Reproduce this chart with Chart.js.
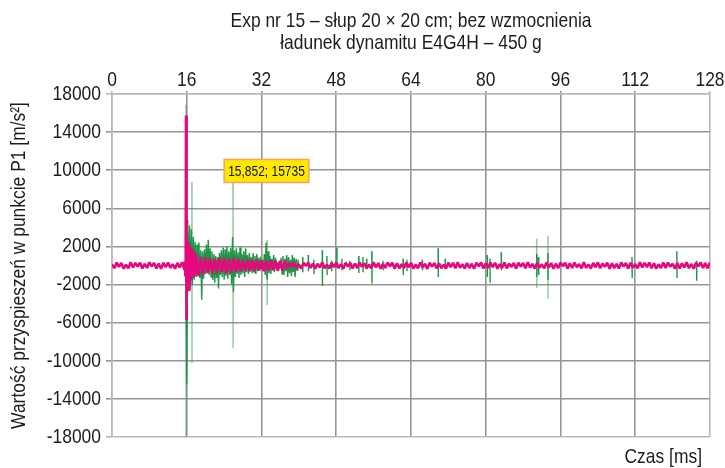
<!DOCTYPE html>
<html>
<head>
<meta charset="utf-8">
<script src="https://cdn.jsdelivr.net/npm/chart.js@4.4.1/dist/chart.umd.min.js"></script>
<style>
  html, body { margin: 0; padding: 0; background: #ffffff; }
  canvas { display: block; }
</style>
</head>
<body>
<canvas id="chart" width="725" height="468"></canvas>
<script>
// ---- texts ----
const titleLines = ['Exp nr 15 – słup 20 × 20 cm; bez wzmocnienia', 'ładunek dynamitu E4G4H – 450 g'];
const xTitle = 'Czas [ms]';
const yTitle = 'Wartość przyspieszeń w punkcie P1 [m/s²]';

// ---- axis ticks ----
const timeTicks = [0, 16, 32, 48, 64, 80, 96, 112, 128];
const accelTicks = [18000, 14000, 10000, 6000, 2000, -2000, -6000, -10000, -14000, -18000];

// ---- peak of the P1 trace ----
const PEAK_TIME = 15.852;
const PEAK_VALUE = 15735;

// ---- P1 trace (magenta), sampled every 0.5 ms outside the impact ----
const SAMPLE_MS = 0.5;
// 0.0 … 15.5 ms
const p1Before = [120, -280, 310, -150, 260, -330, 90, -300,
                  340, -210, 280, -120, 300, -320, 180, -260,
                  330, -90, 250, -310, 200, -340, 290, -180,
                  320, -250, 140, -330, 270, -200, 350, -420];
// impact, 15.6 … 17.9 ms
const p1ImpactTime = [15.6, 15.7, 15.78, PEAK_TIME, 15.92, 16.0, 16.1, 16.2, 16.3, 16.4, 16.5, 16.6,
                      16.7, 16.8, 16.9, 17.0, 17.1, 17.2, 17.3, 17.4, 17.5, 17.6, 17.7, 17.8, 17.9];
const p1ImpactValue = [450, -1100, 1900, PEAK_VALUE, -5700, 2600, -2300, 2400, -1800, 2500, -2600, 2100,
                       -1500, 1900, -1400, 1800, -1200, 1600, -1300, 1300, -1000, 1400, -1100, 1200, -900];
// 18.0 … 128.0 ms
const P1_AFTER_START = 18;
const p1After = [1000, -1100, 900, -950, 850,
  -800, 750, -820, 700, -780, 820, -700, 760, -850, 700, -760, 800, -680, 720,
  -640, 600, -560, 620, -600, 540, -580, 620, -520, 560, -600, 500, -540, 580, -500, 520, -560, 480, -520, 500,
  -300, 260, -150, 330, -280, 120, -340, 290, -60, 310, -250, 200, -330, 180,
  -220, 340, -290, 90, -310, 270, -180, 320, -260, 150, -340, 300, -100, 280,
  -320, 210, -270, 330, -140, 250, -310, 100, -290, 340, -200, 260, -330, 170,
  -250, 310, -80, 290, -340, 230, -300, 150, -270, 320, -190, 280, -320, 110,
  -290, 330, -210, 180, -350, 300, -120, 270, -310, 240, -280, 90, -330, 310,
  -160, 280, -300, 340, -230, 130, -320, 260, -270, 190, -340, 300, -90, 320,
  -310, 220, -250, 310, -180, 290, -340, 140, -260, 330, -300, 200, -150, 270,
  -330, 300, -110, 260, -290, 340, -220, 170, -320, 280, -240, 120, -310, 330,
  -200, 250, -340, 190, -280, 310, -70, 290, -330, 230, -260, 320, -180, 150,
  -300, 340, -250, 110, -320, 270, -190, 330, -290, 200, -140, 300, -340, 240,
  -270, 180, -310, 320, -100, 260, -330, 290, -230, 150, -300, 340, -210, 280,
  -160, 310, -290, 240, -340, 130, -270, 320, -250, 300, -120, 190, -330, 270,
  -310, 220, -200, 330, -280, 160, -340, 290, -90, 310, -260, 250, -300, 320];

// ---- second trace (green): dense part 15.8 … 40.0 ms every 0.2 ms ----
const G_DENSE_START = 15.8;
const G_DENSE_STEP = 0.2;
const g1Dense = [0, -12500, 4800, -2500, 4200, -2200, 3800, -2000, 3000, -1500,
  2500, -1200, 2200, -1000, 2400, -1300, 1600, -3600, 1500, -1400,
  1700, -900, 2200, -800, 2700, -1000, 1800, -1200, 1500, -1500,
  1200, -1800, 1000, -1300, 900, -2400, 1300, -1000, 1600, -1200,
  1900, -1500, 1700, -1100, 2000, -1400, 1500, -1000, 1800, -2000,
  3000, -2800, 1600, -1200, 1800, -900, 1400, -1300, 1900, -1000,
  1200, -800, 1500, -1200, 1800, -700, 1100, -900, 1300, -600,
  900, -800, 1300, -700, 1000, -900, 1200, -600, 800, -500,
  900, -400, 600, -500, 1200, -1000, 2400, -1500, 1500, -800,
  1000, -900, 700, -500, 1100, -700, 800, -400, 300, -300,
  500, -300, 800, -900, 1000, -1000, 700, -600, 1100, -1200,
  900, -800, 600, -1100, 1100, -700, 800, -1200, 700, -500, 600, 0];

// isolated bursts later in the record
const g1BurstTime = [40.8, 42.0, 43.2, 45.0, 46.0, 47.0, 48.1, 49.2, 50.9, 52.8,
                     53.7, 54.5, 55.6, 58.0, 62.3, 63.1, 66.4, 69.8, 71.3, 80.3,
                     80.9, 83.3, 90.9, 91.3, 93.3, 111.3, 120.9, 125.1];
const g1BurstHigh = [900, 1100, 600, 1600, 1000, 500, 1900, 700, 500, 1000,
                     900, 700, 1500, 500, 700, 600, 600, 1800, 700, 1100,
                     700, 1400, 1200, 900, 1300, 900, 1500, 500];
const g1BurstLow = [-700, -600, -900, -2150, -1000, -600, -300, -500, -500, -800,
                    -700, -400, -1900, -500, -1000, -600, -500, -1200, -400, -1200,
                    -1800, -500, -1200, -1000, -1500, -1300, -1300, -1600];

// single-sample spikes (thin, faint)
const g1SpikeTime = [15.85, 17.1, 25.9, 33.2, 90.9, 93.3];
const g1SpikeHigh = [16850, 8760, 8660, 2700, 2800, 3100];
const g1SpikeLow = [-18000, -10230, -8660, -4150, -2400, -3500];

// ---- build point lists ----
const p1Points = [];
p1Before.forEach((v, i) => p1Points.push({ x: i * SAMPLE_MS, y: v }));
p1ImpactTime.forEach((t, i) => p1Points.push({ x: t, y: p1ImpactValue[i] }));
p1After.forEach((v, i) => p1Points.push({ x: P1_AFTER_START + i * SAMPLE_MS, y: v }));

const greenPoints = [];
g1Dense.forEach((v, i) => greenPoints.push({ x: +(G_DENSE_START + i * G_DENSE_STEP).toFixed(2), y: v }));
greenPoints.push({ x: 40.05, y: null });
g1BurstTime.forEach((t, i) => {
  greenPoints.push({ x: t, y: g1BurstHigh[i] });
  greenPoints.push({ x: t + 0.05, y: g1BurstLow[i] });
  greenPoints.push({ x: t + 0.06, y: null });
});

const spikePoints = [];
g1SpikeTime.forEach((t, i) => {
  spikePoints.push({ x: t, y: g1SpikeHigh[i] });
  spikePoints.push({ x: t + 0.02, y: g1SpikeLow[i] });
  spikePoints.push({ x: t + 0.03, y: null });
});

// ---- styling ----
const FONT = '"Liberation Sans", Arial, Helvetica, sans-serif';
const SQUEEZE = 0.83;          // narrow lettering
const TEXT = '#1c1c1c';
Chart.defaults.font.family = FONT;
Chart.defaults.color = TEXT;

const edgeGrey = '#b8b8b8';
const gridGrey = '#959595';

// narrow text helper
function narrowText(ctx, text, x, y, size, align, rotate) {
  ctx.save();
  ctx.font = size + 'px ' + FONT;
  ctx.textAlign = align;
  ctx.textBaseline = 'middle';
  ctx.translate(x, y);
  if (rotate) ctx.rotate(-Math.PI / 2);
  ctx.scale(SQUEEZE, 1);
  ctx.fillText(text, 0, 0);
  ctx.restore();
}

const decorations = {
  id: 'decorations',
  afterDatasetsDraw(chart) {
    const { ctx, scales } = chart;
    // peak readout box
    const label = PEAK_TIME.toFixed(3).replace('.', ',') + '; ' + PEAK_VALUE;
    ctx.save();
    ctx.font = '15px ' + FONT;
    const tw = ctx.measureText(label).width * 0.8;
    const w = tw + 8;
    const h = 23;
    const left = scales.x.getPixelForValue(24);
    const cy = scales.y.getPixelForValue(9920);
    ctx.fillStyle = '#ffe900';
    ctx.fillRect(left, cy - h / 2, w, h);
    ctx.strokeStyle = '#f4a460';
    ctx.lineWidth = 1.5;
    ctx.strokeRect(left, cy - h / 2, w, h);
    ctx.fillStyle = '#111';
    ctx.textBaseline = 'middle';
    ctx.textAlign = 'left';
    ctx.translate(left + 4, cy + 1);
    ctx.scale(0.8, 1);
    ctx.fillText(label, 0, 0);
    ctx.restore();
  },
  afterDraw(chart) {
    const { ctx, chartArea, scales } = chart;
    ctx.save();
    ctx.fillStyle = TEXT;
    const cx = (chartArea.left + chartArea.right) / 2;
    narrowText(ctx, titleLines[0], cx, 21, 21, 'center');
    narrowText(ctx, titleLines[1], cx, 43, 21, 'center');
    // tick labels along the scales
    scales.x.ticks.forEach(t => {
      narrowText(ctx, String(t.value), scales.x.getPixelForValue(t.value), 80, 21, 'center');
    });
    scales.y.ticks.forEach(t => {
      narrowText(ctx, String(t.value), 101, scales.y.getPixelForValue(t.value), 21, 'right');
    });
    // axis titles
    narrowText(ctx, xTitle, chartArea.right - 8, 457, 21, 'right');
    narrowText(ctx, yTitle, 19, (chartArea.top + chartArea.bottom) / 2, 21, 'center', true);
    ctx.restore();
  }
};

new Chart(document.getElementById('chart'), {
  type: 'line',
  data: {
    datasets: [
      {
        label: 'P1',
        data: p1Points,
        borderColor: 'rgb(230, 8, 124)',
        borderWidth: 2.6,
        borderJoinStyle: 'bevel',
        pointRadius: 0,
        tension: 0
      },
      {
        label: 'P1 (2)',
        data: greenPoints,
        borderColor: 'rgb(28, 150, 70)',
        borderWidth: 1.4,
        borderJoinStyle: 'bevel',
        pointRadius: 0,
        spanGaps: false,
        tension: 0
      },
      {
        label: 'P1 (2) spikes',
        data: spikePoints,
        borderColor: 'rgba(60, 160, 90, 0.55)',
        borderWidth: 1.5,
        pointRadius: 0,
        spanGaps: false,
        tension: 0
      }
    ]
  },
  options: {
    responsive: false,
    animation: false,
    events: [],
    layout: { padding: { left: 0, right: 15, top: 0, bottom: 31 } },
    plugins: {
      legend: { display: false },
      title: { display: false },
      tooltip: { enabled: false }
    },
    scales: {
      x: {
        type: 'linear',
        position: 'top',
        min: 0,
        max: 128,
        afterBuildTicks: axis => { axis.ticks = timeTicks.map(v => ({ value: v })); },
        afterFit: scale => { scale.height = 94; },
        ticks: { display: false, autoSkip: false },
        grid: {
          color: c => (c.tick && (c.tick.value === 0 || c.tick.value === 128)) ? edgeGrey : gridGrey,
          lineWidth: 1.6,
          tickLength: 3,
          drawTicks: true
        },
        border: { color: edgeGrey, width: 1.6 }
      },
      y: {
        type: 'linear',
        position: 'left',
        min: -18000,
        max: 18000,
        afterBuildTicks: axis => { axis.ticks = accelTicks.map(v => ({ value: v })); },
        afterFit: scale => { scale.width = 112; },
        ticks: { display: false, autoSkip: false },
        grid: {
          color: c => (c.tick && Math.abs(c.tick.value) === 18000) ? edgeGrey : gridGrey,
          lineWidth: 1.6,
          tickLength: 6,
          drawTicks: true
        },
        border: { color: edgeGrey, width: 1.6 }
      }
    }
  },
  plugins: [decorations]
});
</script>
</body>
</html>
